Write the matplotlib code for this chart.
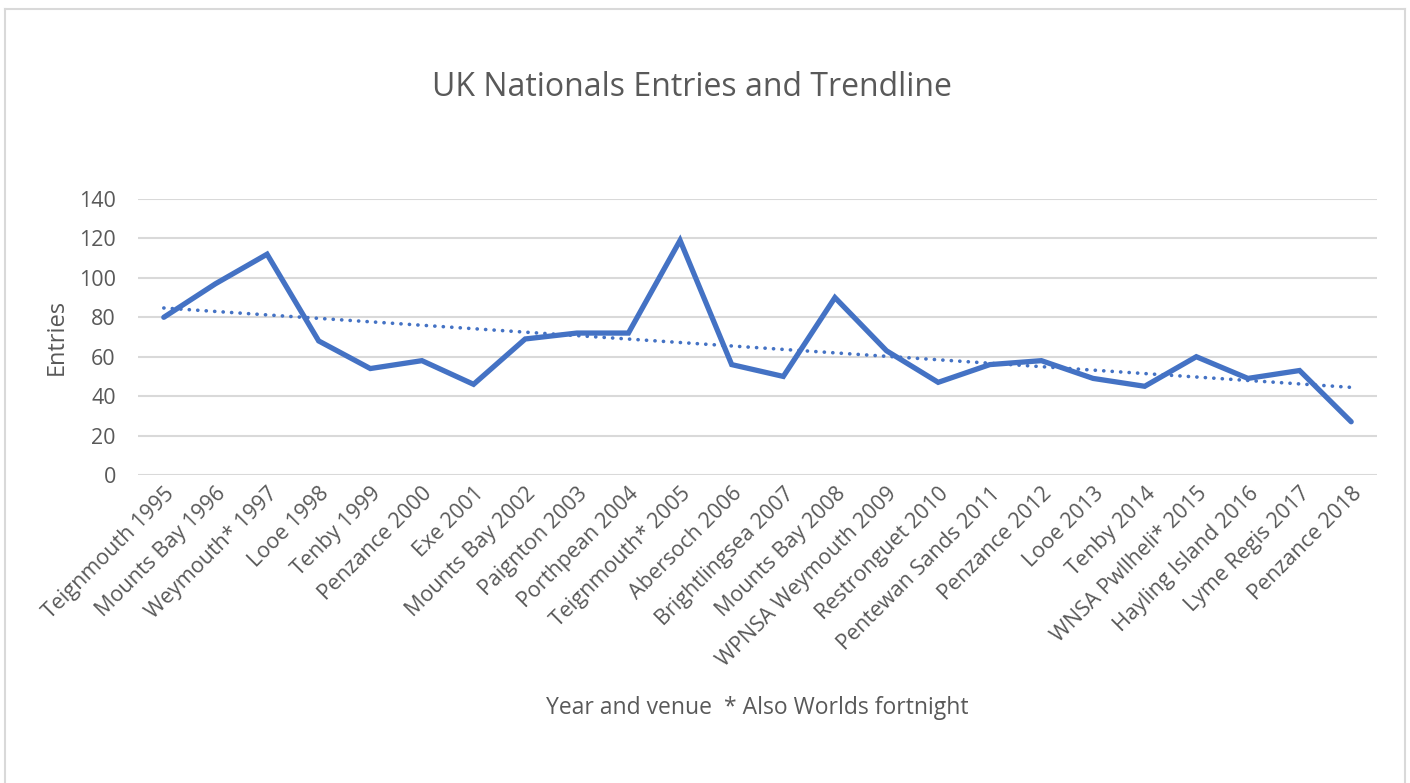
import numpy as np
import matplotlib
matplotlib.use("Agg")
import matplotlib.pyplot as plt
from matplotlib.lines import Line2D

venues = ["Teignmouth 1995", "Mounts Bay 1996", "Weymouth* 1997", "Looe 1998", "Tenby 1999",
          "Penzance 2000", "Exe 2001", "Mounts Bay 2002", "Paignton 2003", "Porthpean 2004",
          "Teignmouth* 2005", "Abersoch 2006", "Brightlingsea 2007", "Mounts Bay 2008",
          "WPNSA Weymouth 2009", "Restronguet 2010", "Pentewan Sands 2011", "Penzance 2012",
          "Looe 2013", "Tenby 2014", "WNSA Pwllheli* 2015", "Hayling Island 2016",
          "Lyme Regis 2017", "Penzance 2018"]
entries = [80, 97, 112, 68, 54, 58, 46, 69, 72, 72, 119, 56, 50, 90, 63, 47, 56, 58, 49, 45, 60, 49, 53, 27]
yticks = [0, 20, 40, 60, 80, 100, 120, 140]

plt.rcParams['font.family'] = ['Open Sans', 'DejaVu Sans']
txt = '#595959'
blue = '#4472C4'

fig = plt.figure(figsize=(14.1, 7.83), dpi=100)
ax = fig.add_axes([138/1410, 1-475/783, (1377-138)/1410, (475-199)/783])

x = np.arange(len(entries))
ax.plot(x, entries, color=blue, lw=3.8, solid_joinstyle='miter', solid_capstyle='round', zorder=3)
coef = np.polyfit(x, entries, 1)
ax.plot(x, np.polyval(coef, x), color=blue, lw=2.6, linestyle=(0, (0.05, 2.3)),
        dash_capstyle='round', zorder=2)

ax.set_xlim(-0.5, len(entries) - 0.5)
ax.set_ylim(0, 140)
ax.set_yticks(yticks)
ax.set_yticklabels([str(v) for v in yticks], fontsize=15.5, color=txt)
ax.yaxis.grid(True, color='#d9d9d9', lw=1.5)
ax.set_axisbelow(True)
for s in ax.spines.values():
    s.set_visible(False)
ax.tick_params(axis='both', length=0)
ax.tick_params(axis='y', pad=16)
ax.set_xticks(x)
ax.set_xticklabels(venues, rotation=45, ha='right', va='top', rotation_mode='anchor',
                   fontsize=15.5, color=txt)
ax.tick_params(axis='x', pad=6)

fig.text(757/1410, 1-708/783, "Year and venue  * Also Worlds fortnight", ha='center', va='center',
         fontsize=16.5, color=txt)
fig.text(57/1410, 1-337/783, "Entries", ha='center', va='center', rotation=90,
         fontsize=17, color=txt)
fig.text(692/1410, 1-88/783, "UK Nationals Entries and Trendline", ha='center', va='center',
         fontsize=23, color=txt)

# chart border
bc = '#d9d9d9'
for xs, ys in [([5, 5], [9, 790]), ([5, 1405], [9, 9]), ([1405, 1405], [9, 790])]:
    fig.add_artist(Line2D([v/1410 for v in xs], [1 - v/783 for v in ys], color=bc, lw=1.5,
                          transform=fig.transFigure))

fig.savefig("out.png", dpi=100, facecolor='white')
